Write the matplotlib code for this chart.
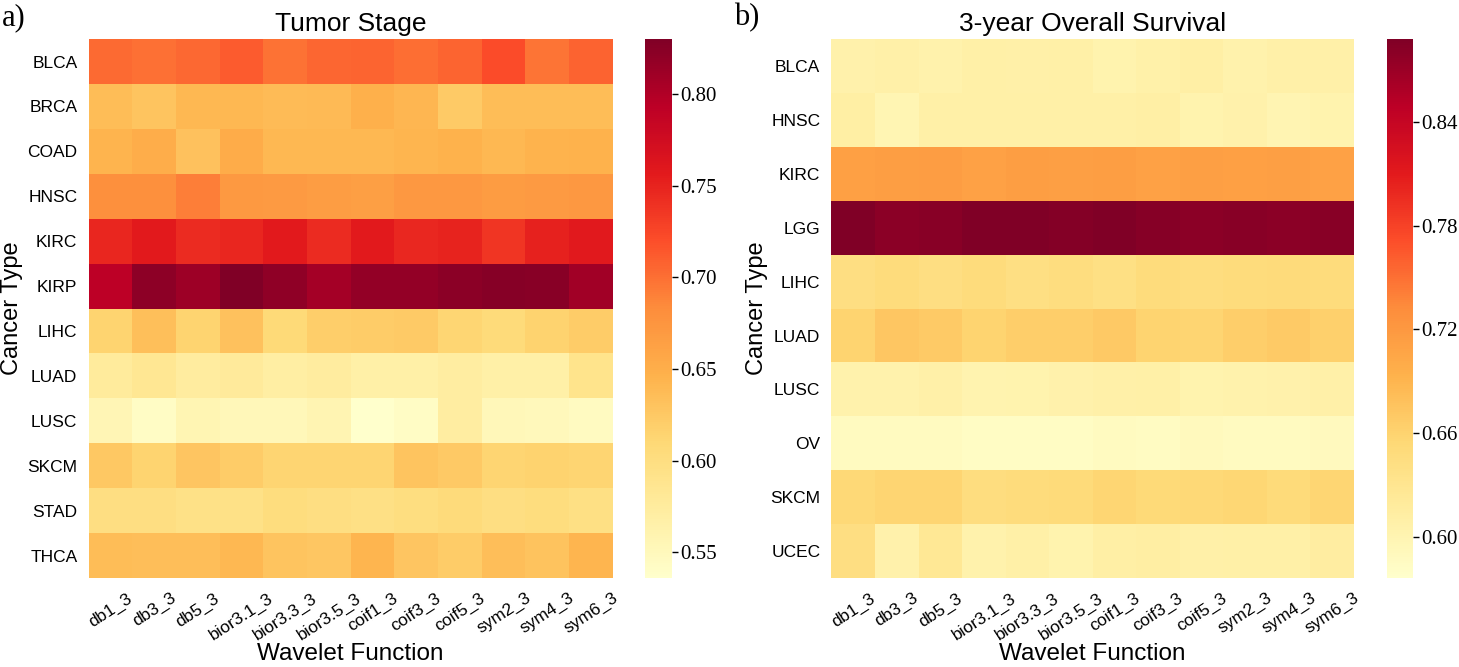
import numpy as np
import matplotlib
matplotlib.use("Agg")
import matplotlib.pyplot as plt

# wavelet functions (columns, same for both panels)
wavelets = ["db1_3", "db3_3", "db5_3", "bior3.1_3", "bior3.3_3", "bior3.5_3",
            "coif1_3", "coif3_3", "coif5_3", "sym2_3", "sym4_3", "sym6_3"]

# panel a) tumor stage
stage_types = ["BLCA", "BRCA", "COAD", "HNSC", "KIRC", "KIRP",
               "LIHC", "LUAD", "LUSC", "SKCM", "STAD", "THCA"]
stage_blca = [0.703, 0.700, 0.704, 0.712, 0.699, 0.705, 0.706, 0.701, 0.706, 0.722, 0.697, 0.708]
stage_brca = [0.637, 0.630, 0.641, 0.641, 0.638, 0.639, 0.648, 0.642, 0.624, 0.637, 0.637, 0.636]
stage_coad = [0.645, 0.651, 0.632, 0.653, 0.641, 0.641, 0.641, 0.643, 0.647, 0.641, 0.646, 0.647]
stage_hnsc = [0.680, 0.680, 0.692, 0.671, 0.670, 0.667, 0.665, 0.672, 0.672, 0.669, 0.670, 0.672]
stage_kirc = [0.748, 0.757, 0.745, 0.748, 0.757, 0.745, 0.757, 0.747, 0.750, 0.738, 0.751, 0.758]
stage_kirp = [0.793, 0.821, 0.812, 0.830, 0.820, 0.808, 0.818, 0.818, 0.822, 0.826, 0.825, 0.810]
stage_lihc = [0.615, 0.634, 0.615, 0.632, 0.608, 0.620, 0.621, 0.624, 0.612, 0.607, 0.616, 0.622]
stage_luad = [0.577, 0.585, 0.574, 0.578, 0.571, 0.575, 0.568, 0.568, 0.572, 0.568, 0.568, 0.590]
stage_lusc = [0.556, 0.542, 0.557, 0.553, 0.553, 0.558, 0.537, 0.542, 0.572, 0.553, 0.550, 0.546]
stage_skcm = [0.626, 0.615, 0.629, 0.621, 0.614, 0.614, 0.614, 0.630, 0.625, 0.613, 0.616, 0.614]
stage_stad = [0.600, 0.600, 0.595, 0.595, 0.603, 0.600, 0.596, 0.601, 0.605, 0.600, 0.603, 0.598]
stage_thca = [0.636, 0.635, 0.635, 0.641, 0.630, 0.627, 0.643, 0.629, 0.621, 0.635, 0.631, 0.643]

# panel b) 3-year overall survival
surv_types = ["BLCA", "HNSC", "KIRC", "LGG", "LIHC", "LUAD", "LUSC", "OV", "SKCM", "UCEC"]
surv_blca = [0.606, 0.608, 0.605, 0.609, 0.608, 0.609, 0.604, 0.607, 0.611, 0.605, 0.608, 0.608]
surv_hnsc = [0.612, 0.599, 0.609, 0.609, 0.610, 0.610, 0.610, 0.611, 0.603, 0.606, 0.600, 0.603]
surv_kirc = [0.712, 0.714, 0.716, 0.711, 0.714, 0.713, 0.714, 0.711, 0.713, 0.712, 0.713, 0.711]
surv_lgg = [0.888, 0.880, 0.883, 0.887, 0.887, 0.885, 0.887, 0.884, 0.880, 0.883, 0.880, 0.883]
surv_lihc = [0.644, 0.649, 0.644, 0.649, 0.643, 0.646, 0.641, 0.648, 0.646, 0.648, 0.650, 0.648]
surv_luad = [0.660, 0.673, 0.669, 0.659, 0.665, 0.665, 0.670, 0.659, 0.658, 0.666, 0.669, 0.663]
surv_lusc = [0.605, 0.605, 0.608, 0.602, 0.604, 0.606, 0.608, 0.609, 0.604, 0.605, 0.606, 0.608]
surv_ov = [0.587, 0.588, 0.588, 0.584, 0.584, 0.584, 0.588, 0.585, 0.590, 0.588, 0.588, 0.589]
surv_skcm = [0.653, 0.658, 0.658, 0.646, 0.649, 0.651, 0.657, 0.652, 0.653, 0.656, 0.651, 0.657]
surv_ucec = [0.644, 0.606, 0.625, 0.605, 0.610, 0.604, 0.611, 0.613, 0.608, 0.610, 0.610, 0.614]

stage_ticks = [0.55, 0.60, 0.65, 0.70, 0.75, 0.80]
surv_ticks = [0.60, 0.66, 0.72, 0.78, 0.84]

SANS = ["Liberation Sans", "DejaVu Sans"]
SERIF = ["Liberation Serif", "DejaVu Serif"]


def draw_panel(fig, ax_rect, cb_rect, data, rows, title, ticks, vmin, vmax, ylab_x):
    ax = fig.add_axes(ax_rect)
    cax = fig.add_axes(cb_rect)
    mesh = ax.pcolormesh(data, cmap="YlOrRd", vmin=vmin, vmax=vmax)
    ax.set_xlim(0, data.shape[1])
    ax.set_ylim(data.shape[0], 0)
    for s in ax.spines.values():
        s.set_visible(False)
    ax.set_xticks(np.arange(data.shape[1]) + 0.5)
    ax.set_xticklabels(wavelets, rotation=33, ha="center", family=SANS, fontsize=12.5)
    ax.set_yticks(np.arange(data.shape[0]) + 0.5)
    ax.set_yticklabels(rows, family=SANS, fontsize=12.5)
    ax.tick_params(axis="y", length=0, pad=8)
    ax.tick_params(axis="x", length=0, pad=9)
    ax.set_title(title, family=SANS, fontsize=19, pad=6)
    ax.set_xlabel("Wavelet Function", family=SANS, fontsize=17.5, labelpad=0)
    ax.set_ylabel("Cancer Type", family=SANS, fontsize=17)
    # keep the y label inside the figure, just left of the row names
    ax.yaxis.set_label_coords(ylab_x, 0.5)

    cbar = fig.colorbar(mesh, cax=cax)
    cbar.outline.set_visible(False)
    cbar.set_ticks(ticks)
    cbar.ax.set_yticklabels(["%.2f" % t for t in ticks], family=SERIF, fontsize=15)
    cbar.ax.tick_params(length=4, width=1, pad=2)
    return ax


def main():
    stage = np.array([stage_blca, stage_brca, stage_coad, stage_hnsc, stage_kirc, stage_kirp,
                      stage_lihc, stage_luad, stage_lusc, stage_skcm, stage_stad, stage_thca])
    surv = np.array([surv_blca, surv_hnsc, surv_kirc, surv_lgg, surv_lihc,
                     surv_luad, surv_lusc, surv_ov, surv_skcm, surv_ucec])

    fig = plt.figure(figsize=(14.59, 6.67), dpi=100)

    draw_panel(fig, [0.0607, 0.1334, 0.3593, 0.808], [0.4421, 0.1334, 0.0185, 0.808],
               stage, stage_types, "Tumor Stage", stage_ticks, 0.536, 0.830, -0.125)
    draw_panel(fig, [0.5699, 0.1334, 0.3581, 0.808], [0.9506, 0.1334, 0.0178, 0.808],
               surv, surv_types, "3-year Overall Survival", surv_ticks, 0.576, 0.888, -0.122)

    # panel letters
    fig.text(0.001, 0.995, "a)", family=SERIF, fontsize=22, va="top", ha="left")
    fig.text(0.503, 0.995, "b)", family=SERIF, fontsize=22, va="top", ha="left")

    fig.savefig("out.png", dpi=100)
    plt.close(fig)


if __name__ == "__main__":
    main()
